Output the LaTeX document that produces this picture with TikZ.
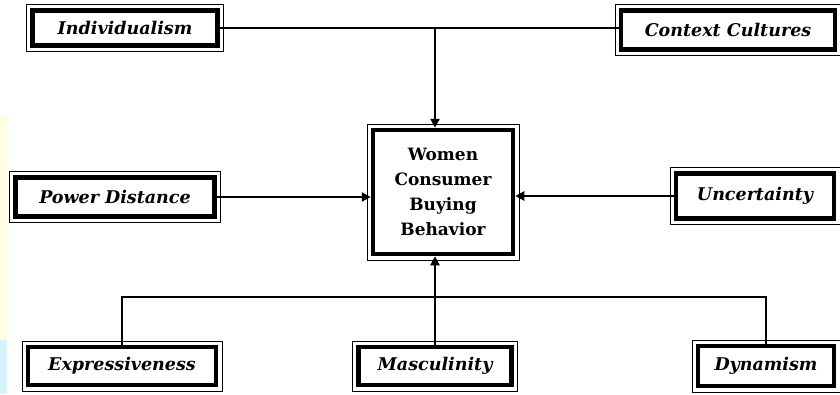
\documentclass[tikz,border=0pt]{standalone}
\usepackage{fontspec}
\setmainfont{DejaVu Serif}
\usetikzlibrary{arrows.meta}

\begin{document}
\begin{tikzpicture}[
            x=1pt, y=-1pt,
            factor/.style = {
                draw,
                line width=4.5pt,
                fill=white,
                inner sep=0pt,
                font=\fontsize{17.5}{20}\selectfont\bfseries\itshape
            },
            core/.style = {
                draw,
                line width=4.5pt,
                fill=white,
                align=center,
                inner sep=0pt,
                font=\fontsize{17}{25}\selectfont\bfseries
            },
            link/.style = {line width=1.8pt},
            arrow/.style = {line width=2.4pt, -{Triangle[length=9pt,width=9pt]}}
        ]
            \useasboundingbox (0,0) rectangle (840,394);
            % pale strip on the left edge
            \fill[yellow!12] (0,115) rectangle (7,340);
            \fill[cyan!15] (0,340) rectangle (7,394);

            \node[core, minimum width=140pt, minimum height=124pt] (cb) at (443,192)
                {Women\\Consumer\\Buying\\Behavior};

            \foreach \name/\x/\y/\w/\h/\txt in {
                ind/125/28/185/35/Individualism,
                ctx/728/30/214/39/Context Cultures,
                pd/115/197/199/39/Power Distance,
                unc/755/196/158/45/Uncertainty,
                exp/122/366/188/38/Expressiveness,
                mas/435/366/153/38/Masculinity,
                dyn/766/366/136/40/Dynamism} {
                \node[factor, minimum width=\w pt, minimum height=\h pt] (\name) at (\x,\y) {\txt};
            }

            % thin outer frames
            \foreach \name in {cb,ind,ctx,pd,unc,exp,mas,dyn} {
                \draw[line width=0.8pt] ([shift={(-3.8pt,-3.8pt)}]\name.south west)
                    rectangle ([shift={(3.8pt,3.8pt)}]\name.north east);
            }

            \coordinate (top) at (mas.north |- ind.east);
            \draw[link] (ind.east) -- (ctx.west |- ind.east);
            \draw[arrow] (top) -- (top |- cb.north);

            \draw[arrow] (pd.east) -- (pd.east -| cb.west);
            \draw[arrow] (unc.west) -- (unc.west -| cb.east);

            \coordinate (bus) at (435,297);
            \draw[link] (exp.north) |- (bus) -| (dyn.north);
            \draw[arrow] (mas.north) -- (mas.north |- cb.south);

        \end{tikzpicture}
\end{document}
